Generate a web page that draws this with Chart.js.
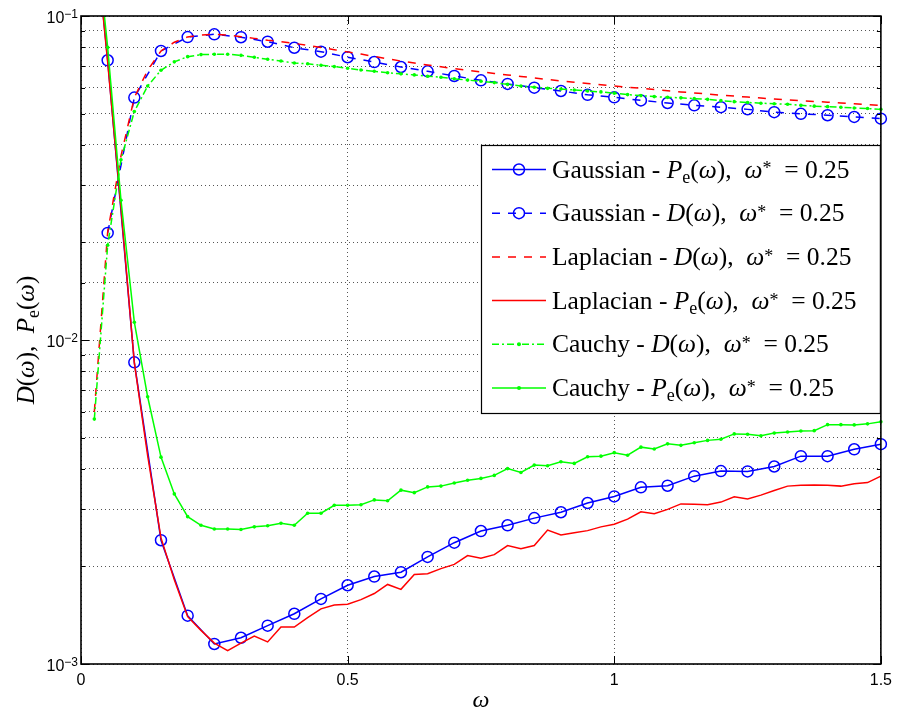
<!DOCTYPE html>
<html>
<head>
<meta charset="utf-8">
<script src="https://cdn.jsdelivr.net/npm/chart.js@4.4.1/dist/chart.umd.min.js"></script>
<style>
  html, body { margin: 0; padding: 0; background: #fff; }
  #wrap { width: 899px; height: 712px; }
</style>
</head>
<body>
<div id="wrap"><canvas id="chart" width="899" height="712"></canvas></div>
<script>
// omega grid, step 0.025 (Laplacian / Cauchy curves)
const X_FINE = [0.025, 0.05, 0.075, 0.1, 0.125, 0.15, 0.175, 0.2, 0.225, 0.25,
  0.275, 0.3, 0.325, 0.35, 0.375, 0.4, 0.425, 0.45, 0.475, 0.5,
  0.525, 0.55, 0.575, 0.6, 0.625, 0.65, 0.675, 0.7, 0.725, 0.75,
  0.775, 0.8, 0.825, 0.85, 0.875, 0.9, 0.925, 0.95, 0.975, 1,
  1.025, 1.05, 1.075, 1.1, 1.125, 1.15, 1.175, 1.2, 1.225, 1.25,
  1.275, 1.3, 1.325, 1.35, 1.375, 1.4, 1.425, 1.45, 1.475, 1.5];

// omega grid, step 0.05 (Gaussian curves)
const X_GAUSS = [0.05, 0.1, 0.15, 0.2, 0.25, 0.3, 0.35, 0.4, 0.45, 0.5,
  0.55, 0.6, 0.65, 0.7, 0.75, 0.8, 0.85, 0.9, 0.95, 1,
  1.05, 1.1, 1.15, 1.2, 1.25, 1.3, 1.35, 1.4, 1.45, 1.5];
const X_GAUSS_PE = [0].concat(X_GAUSS);

const GAUSS_PE = [0.5, 0.073, 0.00853, 0.00241, 0.00141, 0.001153, 0.001205, 0.001313, 0.001429, 0.001588,
  0.00175, 0.001862, 0.00192, 0.00214, 0.002368, 0.002573, 0.00268, 0.00282, 0.00294, 0.00314,
  0.00329, 0.00351, 0.00355, 0.0038, 0.00394, 0.00393, 0.00407, 0.00438, 0.00438, 0.0046, 0.00477];

const GAUSS_D = [0.0214, 0.056, 0.078, 0.0861, 0.0878, 0.086, 0.0833, 0.0798, 0.0776, 0.0746,
  0.0721, 0.0696, 0.0675, 0.0653, 0.0633, 0.0617, 0.0601, 0.0587, 0.0571, 0.0561,
  0.0549, 0.0539, 0.053, 0.0523, 0.0515, 0.0505, 0.0499, 0.0494, 0.0488, 0.0482];

const LAPLACE_D = [0.006, 0.0215, 0.037, 0.056, 0.068, 0.078, 0.083, 0.0862, 0.0873, 0.0878,
  0.0873, 0.0863, 0.0853, 0.0842, 0.0833, 0.0823, 0.0811, 0.08, 0.0787, 0.0775,
  0.0763, 0.075, 0.0738, 0.0726, 0.0716, 0.0706, 0.0697, 0.0688, 0.068, 0.0672,
  0.0665, 0.0658, 0.0651, 0.0644, 0.0637, 0.063, 0.0625, 0.0619, 0.0613, 0.0608,
  0.0603, 0.0598, 0.0593, 0.0588, 0.0583, 0.0579, 0.0574, 0.057, 0.0566, 0.0562,
  0.0558, 0.0554, 0.0551, 0.0548, 0.0545, 0.0542, 0.0539, 0.0536, 0.0533, 0.053];

const LAPLACE_PE = [0.19, 0.072, 0.0255, 0.0085, 0.0044, 0.00245, 0.00182, 0.0014, 0.00127, 0.00116,
  0.0011, 0.00116, 0.00122, 0.00117, 0.0013, 0.0013, 0.00139, 0.00148, 0.00152, 0.00153,
  0.00158, 0.00165, 0.00176, 0.0017, 0.00189, 0.0019, 0.00197, 0.00203, 0.00216, 0.00212,
  0.002175, 0.00232, 0.00227, 0.00232, 0.00259, 0.0025, 0.00254, 0.00258, 0.00265, 0.0027,
  0.0028, 0.00295, 0.00291, 0.003, 0.00312, 0.00311, 0.0031, 0.00316, 0.00328, 0.00323,
  0.00332, 0.00343, 0.00354, 0.00356, 0.00357, 0.00356, 0.00354, 0.0036, 0.00363, 0.0038];

const CAUCHY_D = [0.0057, 0.0196, 0.036, 0.0507, 0.0608, 0.068, 0.0722, 0.0749, 0.076, 0.0762,
  0.0762, 0.0756, 0.0746, 0.0735, 0.0726, 0.0716, 0.0712, 0.0705, 0.0698, 0.069,
  0.0681, 0.0675, 0.0668, 0.0663, 0.0658, 0.0652, 0.0647, 0.064, 0.0634, 0.0629,
  0.0623, 0.0615, 0.0608, 0.0603, 0.0598, 0.0595, 0.0591, 0.0587, 0.0583, 0.0578,
  0.0572, 0.0568, 0.0564, 0.0561, 0.0559, 0.0556, 0.0553, 0.0548, 0.0544, 0.0541,
  0.0538, 0.0536, 0.0534, 0.053, 0.0527, 0.0525, 0.0523, 0.052, 0.0518, 0.0515];

const CAUCHY_PE = [0.2, 0.08, 0.027, 0.01135, 0.00668, 0.00435, 0.00335, 0.00285, 0.00268, 0.00261,
  0.00261, 0.0026, 0.00265, 0.00267, 0.00272, 0.00268, 0.00292, 0.00292, 0.00309, 0.00309,
  0.0031, 0.00321, 0.00319, 0.00344, 0.00338, 0.00352, 0.00354, 0.00362, 0.00369, 0.00374,
  0.00382, 0.00401, 0.0039, 0.00411, 0.00409, 0.00421, 0.00416, 0.00436, 0.00438, 0.00449,
  0.00441, 0.00467, 0.00461, 0.00478, 0.00473, 0.00482, 0.0049, 0.00494, 0.00513, 0.00512,
  0.00506, 0.00516, 0.0052, 0.00524, 0.00525, 0.00548, 0.00548, 0.00547, 0.00551, 0.00559];

const Y_DECADES = [0.001, 0.01, 0.1];

const BLUE = "#0000ff";
const RED = "#ff0000";
const GREEN = "#00ff00";
const SERIF = '"Liberation Serif", "Times New Roman", serif';
const SANS = '"Liberation Sans", Arial, sans-serif';

function pts(xs, ys) {
  return xs.map((x, i) => ({ x, y: ys[i] }));
}

function isPow10(v) {
  const l = Math.log10(v);
  return Math.abs(l - Math.round(l)) < 1e-9;
}

// label pieces: r = roman, i = italic, sub / sup
function labelRuns(name, sym) {
  const runs = [[name + " - ", "r"]];
  if (sym === "P") runs.push(["P", "i"], ["e", "sub"]);
  else runs.push(["D", "i"]);
  runs.push(["(", "r"], ["\u03C9", "i"], ["),", "r"], ["  ", "r"], ["\u03C9", "i"], ["*", "sup"], ["  = 0.25", "r"]);
  return runs;
}

function runFont(kind, size) {
  if (kind === "i") return `italic ${size}px ${SERIF}`;
  if (kind === "sub" || kind === "sup") return `${Math.round(size * 0.72)}px ${SERIF}`;
  return `${size}px ${SERIF}`;
}

function drawRuns(ctx, runs, x, y, size) {
  runs.forEach(([txt, kind]) => {
    let dy = 0;
    if (kind === "sub") dy = size * 0.2;
    else if (kind === "sup") dy = -size * 0.12;
    ctx.font = runFont(kind, size);
    ctx.fillText(txt, x, y + dy);
    x += ctx.measureText(txt).width;
  });
  return x;
}

function runsWidth(ctx, runs, size) {
  let w = 0;
  runs.forEach(([txt, kind]) => {
    ctx.font = runFont(kind, size);
    w += ctx.measureText(txt).width;
  });
  return w;
}

const LEGEND = [
  { runs: labelRuns("Gaussian", "P"), color: BLUE, dash: [], marker: "o" },
  { runs: labelRuns("Gaussian", "D"), color: BLUE, dash: [8, 8], marker: "o" },
  { runs: labelRuns("Laplacian", "D"), color: RED, dash: [8, 8], marker: null },
  { runs: labelRuns("Laplacian", "P"), color: RED, dash: [], marker: null },
  { runs: labelRuns("Cauchy", "D"), color: GREEN, dash: [7, 3, 2, 3], marker: "." },
  { runs: labelRuns("Cauchy", "P"), color: GREEN, dash: [], marker: "." },
];

const framePlugin = {
  id: "frame",
  afterDatasetsDraw(chart) {
    const { ctx, chartArea: a, scales: { x, y } } = chart;
    ctx.save();
    ctx.strokeStyle = "#000";
    ctx.lineWidth = 1;
    ctx.setLineDash([]);
    ctx.beginPath();
    y.ticks.forEach((t) => {
      const py = Math.round(y.getPixelForValue(t.value)) + 0.5;
      const len = isPow10(t.value) ? 8 : 4;
      ctx.moveTo(a.left, py); ctx.lineTo(a.left + len, py);
      ctx.moveTo(a.right, py); ctx.lineTo(a.right - len, py);
    });
    x.ticks.forEach((t) => {
      const px = Math.round(x.getPixelForValue(t.value)) + 0.5;
      ctx.moveTo(px, a.bottom); ctx.lineTo(px, a.bottom - 8);
      ctx.moveTo(px, a.top); ctx.lineTo(px, a.top + 8);
    });
    ctx.stroke();
    ctx.lineWidth = 1.6;
    ctx.strokeRect(a.left, a.top, a.right - a.left, a.bottom - a.top);
    ctx.restore();
  },
  afterDraw(chart) {
    const { ctx, chartArea: a, scales: { y } } = chart;
    ctx.save();
    ctx.fillStyle = "#000";
    ctx.textBaseline = "alphabetic";

    // y tick labels 10^-k with raised exponent
    Y_DECADES.forEach((v) => {
      const py = y.getPixelForValue(v);
      const exp = "\u2212" + String(-Math.round(Math.log10(v)));
      ctx.textAlign = "right";
      ctx.font = `12px ${SANS}`;
      const ew = ctx.measureText(exp).width;
      ctx.fillText(exp, a.left - 3, py + 2);
      ctx.font = `16px ${SANS}`;
      ctx.fillText("10", a.left - 3 - ew, py + 7);
    });
    ctx.textAlign = "left";

    // y axis title, rotated
    const ySize = 25;
    const yRuns = [["D", "i"], ["(", "r"], ["\u03C9", "i"], [")", "r"], [",  ", "r"], ["P", "i"], ["e", "sub"], ["(", "r"], ["\u03C9", "i"], [")", "r"]];
    const yw = runsWidth(ctx, yRuns, ySize);
    ctx.save();
    ctx.translate(34, (a.top + a.bottom) / 2);
    ctx.rotate(-Math.PI / 2);
    drawRuns(ctx, yRuns, -yw / 2, 0, ySize);
    ctx.restore();

    // legend box
    const bx = 481, by = 145, bw = a.right - 481, bh = 269;
    ctx.fillStyle = "#fff";
    ctx.fillRect(bx, by, bw, bh);
    ctx.strokeStyle = "#000";
    ctx.lineWidth = 1.2;
    ctx.strokeRect(bx + 0.5, by + 0.5, bw - 1, bh - 1);
    const size = 25.5;
    LEGEND.forEach((item, i) => {
      const cy = 169.5 + i * 43.7;
      ctx.strokeStyle = item.color;
      ctx.lineWidth = 1.5;
      ctx.setLineDash(item.dash);
      ctx.beginPath();
      ctx.moveTo(492, cy); ctx.lineTo(546, cy);
      ctx.stroke();
      ctx.setLineDash([]);
      if (item.marker === "o") {
        ctx.beginPath();
        ctx.arc(519, cy, 5.5, 0, Math.PI * 2);
        ctx.stroke();
      } else if (item.marker === ".") {
        ctx.fillStyle = item.color;
        ctx.beginPath();
        ctx.arc(519, cy, 2, 0, Math.PI * 2);
        ctx.fill();
      }
      ctx.fillStyle = "#000";
      drawRuns(ctx, item.runs, 552, cy + 8, size);
    });
    ctx.restore();
  },
};

const CLIP = { left: 8, top: 0, right: 8, bottom: 8 };

function series(label, xs, ys, color, dash, marker, order) {
  return {
    label,
    data: pts(xs, ys),
    borderColor: color,
    borderWidth: 1.5,
    borderDash: dash,
    pointRadius: marker === "o" ? 5.5 : marker === "." ? 1.8 : 0,
    pointBorderWidth: marker === "o" ? 1.5 : 0,
    pointBorderColor: color,
    pointBackgroundColor: marker === "o" ? "rgba(0,0,0,0)" : color,
    pointHoverRadius: 0,
    tension: 0,
    fill: false,
    clip: CLIP,
    order,
  };
}

new Chart(document.getElementById("chart"), {
  type: "line",
  data: {
    datasets: [
      series("Gaussian - Pe(\u03C9), \u03C9* = 0.25", X_GAUSS_PE, GAUSS_PE, BLUE, [], "o", 6),
      series("Gaussian - D(\u03C9), \u03C9* = 0.25", X_GAUSS, GAUSS_D, BLUE, [8, 8], "o", 5),
      series("Laplacian - D(\u03C9), \u03C9* = 0.25", X_FINE, LAPLACE_D, RED, [8, 8], null, 4),
      series("Laplacian - Pe(\u03C9), \u03C9* = 0.25", X_FINE, LAPLACE_PE, RED, [], null, 3),
      series("Cauchy - D(\u03C9), \u03C9* = 0.25", X_FINE, CAUCHY_D, GREEN, [7, 3, 2, 3], ".", 2),
      series("Cauchy - Pe(\u03C9), \u03C9* = 0.25", X_FINE, CAUCHY_PE, GREEN, [], ".", 1),
    ],
  },
  options: {
    responsive: false,
    animation: false,
    events: [],
    layout: { padding: { left: 0, top: 16, right: 14, bottom: 0 } },
    plugins: { legend: { display: false }, tooltip: { enabled: false } },
    scales: {
      x: {
        type: "linear",
        min: 0,
        max: 1.5,
        afterFit: (s) => { s.height = 48; },
        ticks: {
          stepSize: 0.5,
          padding: 7,
          color: "#000",
          font: { family: SANS, size: 16 },
          callback: (v) => String(v),
        },
        grid: { color: "#555", lineWidth: 1, drawTicks: false },
        border: { display: false, dash: [1, 3] },
        title: {
          display: true,
          text: "\u03C9",
          color: "#000",
          font: { family: SERIF, size: 24, style: "italic" },
          padding: { top: 0, bottom: -3 },
        },
      },
      y: {
        type: "logarithmic",
        min: 0.001,
        max: 0.1,
        afterFit: (s) => { s.width = 81; },
        ticks: {
          autoSkip: false,
          padding: 3,
          color: "rgba(0,0,0,0)",
          font: { family: SANS, size: 16 },
          callback: () => "",
        },
        grid: { color: "#555", lineWidth: 1, drawTicks: false },
        border: { display: false, dash: [1, 3] },
      },
    },
  },
  plugins: [framePlugin],
});
</script>
</body>
</html>
